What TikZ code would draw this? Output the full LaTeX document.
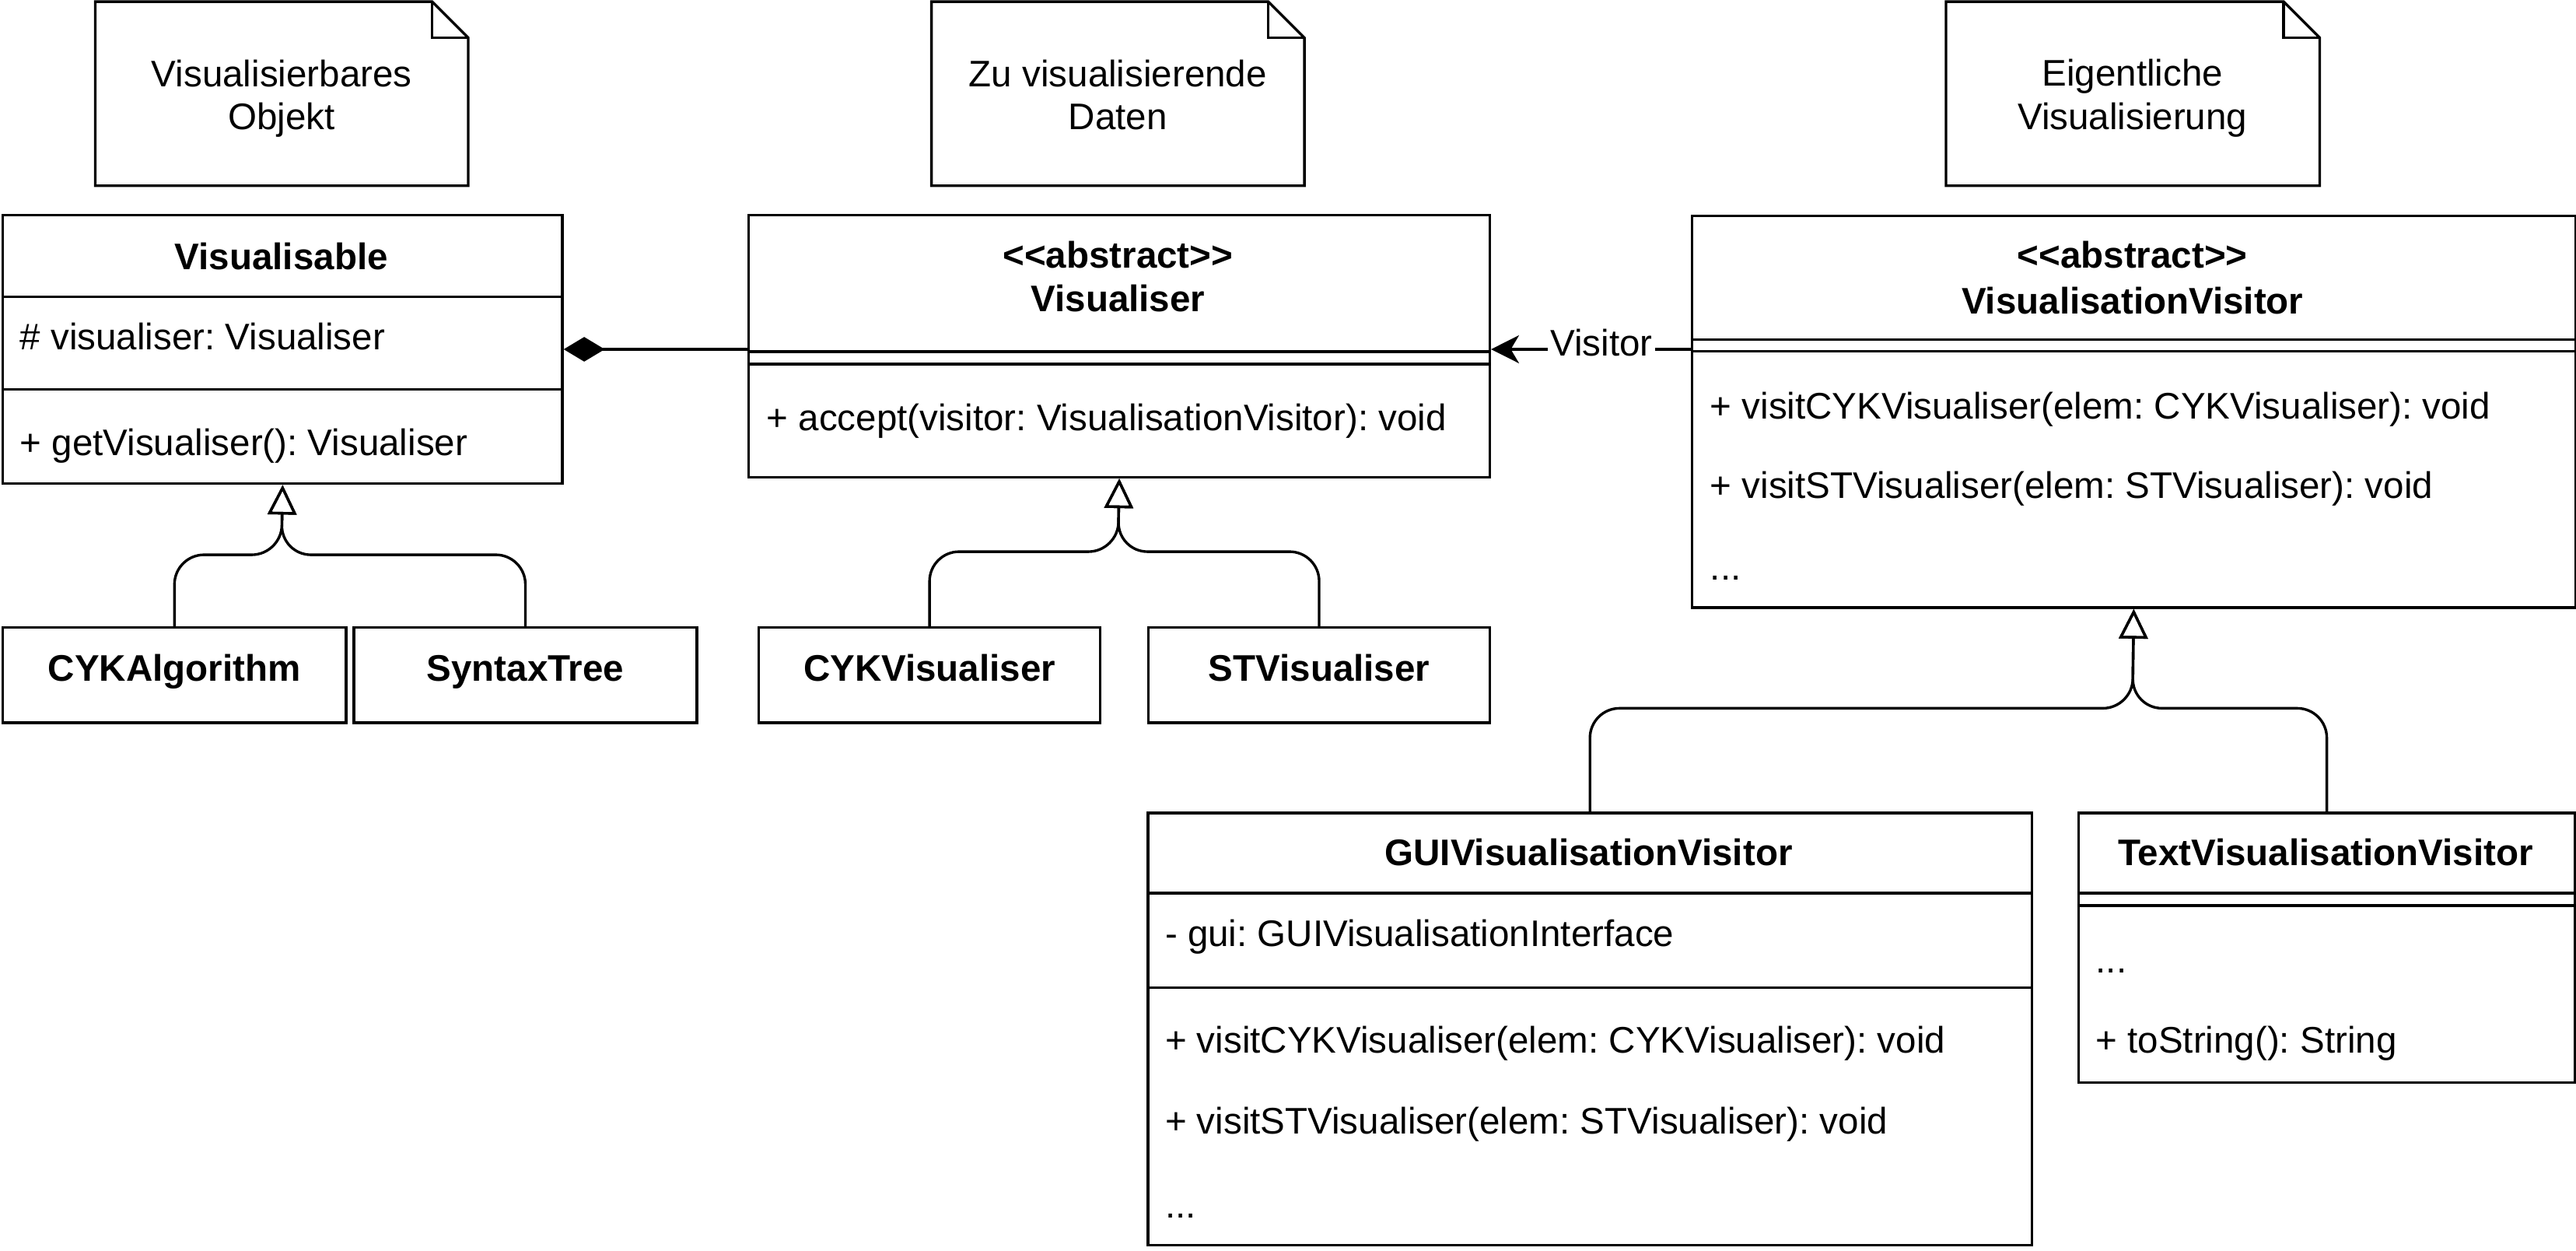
\documentclass[tikz,border=0pt]{standalone}
\usepackage{fontspec}
\setmainfont{Liberation Sans}
\usetikzlibrary{arrows.meta}
\frenchspacing
\begin{document}
\begin{tikzpicture}[x=1pt,y=-1pt,
  every node/.style={font=\fontsize{22.5}{27}\selectfont\frenchspacing, inner sep=0pt},
  cls/.style={draw, line width=1.6pt, anchor=north west, minimum width=#1},
  ln/.style={line width=1.6pt},
  txt/.style={anchor=base west},
  ttl/.style={anchor=base, font=\fontsize{22.5}{27}\selectfont\bfseries\frenchspacing},
  ctr/.style={anchor=base},
  inh/.style={line width=1.6pt, rounded corners=18pt, -{Triangle[open,length=18pt,width=17.5pt]}},
  comp/.style={line width=1.6pt, -{Diamond[length=25pt,width=15pt]}},
  assoc/.style={line width=1.6pt, -{Stealth[length=17pt,width=17pt,inset=5pt]}},
  lbl/.style={fill=white, inner sep=1.5pt}
]
\useasboundingbox (0,0) rectangle (1568,761);

% ---------- notes ----------
\draw[ln, line join=miter] (58,1) -- (263,1) -- (285,23) -- (285,113) -- (58,113) -- cycle;
\draw[ln] (263,1) -- (263,23) -- (285,23);
\node[ctr] (n1a) at (171.5,52.7) {Visualisierbares};
\node[ctr] (n1b) at (171.5,79) {Objekt};

\draw[ln, line join=miter] (567,1) -- (772,1) -- (794,23) -- (794,113) -- (567,113) -- cycle;
\draw[ln] (772,1) -- (772,23) -- (794,23);
\node[ctr] (n2a) at (680.5,52.7) {Zu visualisierende};
\node[ctr] (n2b) at (680.5,79) {Daten};

\draw[ln, line join=miter] (1184.5,1) -- (1390,1) -- (1412,23) -- (1412,113) -- (1184.5,113) -- cycle;
\draw[ln] (1390,1) -- (1390,23) -- (1412,23);
\node[ctr] (n3a) at (1298,52.5) {Eigentliche};
\node[ctr] (n3b) at (1298,78.7) {Visualisierung};

% ---------- Visualisable ----------
\node[cls=340.5pt, minimum height=163.5pt] (vis) at (1,130) {};
\draw[ln] (1,180.5) -- (341.5,180.5);
\draw[ln] (1,237) -- (341.5,237);
\node[ttl] (visT) at (171.25,164) {Visualisable};
\node[txt] (visA) at (12,213) {\# visualiser: Visualiser};
\node[txt] (visM) at (12,277) {+ getVisualiser(): Visualiser};

% ---------- Visualiser ----------
\node[cls=451pt, minimum height=159.6pt] (vzr) at (455,130) {};
\draw[ln] (455,214) -- (906,214);
\draw[ln] (455,221.6) -- (906,221.6);
\node[ttl] (vzrS) at (680.5,163) {<{}<abstract>{}>};
\node[ttl] (vzrT) at (680.5,189.6) {Visualiser};
\node[txt] (vzrM) at (466.5,262) {+ accept(visitor: VisualisationVisitor): void};

% ---------- VisualisationVisitor ----------
\node[cls=538pt, minimum height=238.3pt] (vv) at (1029,130.7) {};
\draw[ln] (1029,206.5) -- (1567,206.5);
\draw[ln] (1029,213.8) -- (1567,213.8);
\node[ttl] (vvS) at (1298,163) {<{}<abstract>{}>};
\node[ttl] (vvT) at (1298,190.8) {VisualisationVisitor};
\node[txt] (vvM1) at (1040.8,254.8) {+ visitCYKVisualiser(elem: CYKVisualiser): void};
\node[txt] (vvM2) at (1040.8,303) {+ visitSTVisualiser(elem: STVisualiser): void};
\node[txt] (vvM3) at (1040.8,352.7) {...};

% ---------- small classes ----------
\node[cls=208.8pt, minimum height=58pt] (cyk) at (1,381) {};
\node[ttl] at (cyk.center |- 0,414.6) {CYKAlgorithm};
\node[cls=208.8pt, minimum height=58pt] (syn) at (214.6,381) {};
\node[ttl] at (syn.center |- 0,414.6) {SyntaxTree};
\node[cls=208pt, minimum height=58pt] (cykv) at (461,381) {};
\node[ttl] at (cykv.center |- 0,414.6) {CYKVisualiser};
\node[cls=207.7pt, minimum height=58pt] (stv) at (698.3,381) {};
\node[ttl] at (stv.center |- 0,414.6) {STVisualiser};

% ---------- GUIVisualisationVisitor ----------
\node[cls=538pt, minimum height=263pt] (gui) at (698,494) {};
\draw[ln] (698,543.5) -- (1236,543.5);
\draw[ln] (698,601) -- (1236,601);
\node[ttl] (guiT) at (967,526.6) {GUIVisualisationVisitor};
\node[txt] (guiA) at (709,575.8) {- gui: GUIVisualisationInterface};
\node[txt] (guiM1) at (709,641) {+ visitCYKVisualiser(elem: CYKVisualiser): void};
\node[txt] (guiM2) at (709,690) {+ visitSTVisualiser(elem: STVisualiser): void};
\node[txt] (guiM3) at (709,741) {...};

% ---------- TextVisualisationVisitor ----------
\node[cls=302pt, minimum height=164pt] (tvv) at (1264.5,494) {};
\draw[ln] (1264.5,543.5) -- (1566.5,543.5);
\draw[ln] (1264.5,551) -- (1566.5,551);
\node[ttl] (tvvT) at (1415.5,526.6) {TextVisualisationVisitor};
\node[txt] (tvvA) at (1275.5,592) {...};
\node[txt] (tvvM) at (1275.5,641) {+ toString(): String};

% ---------- connectors ----------
\coordinate (j1) at (171.25,337.6);
\coordinate (j2) at (680.5,335.7);
\coordinate (j3) at (1298,431);

\draw[inh] (cyk.north) |- (j1) -- (vis.south);
\draw[inh] (syn.north) |- (j1) -- (vis.south);
\draw[inh] (cykv.north) |- (j2) -- (vzr.south);
\draw[inh] (stv.north) |- (j2) -- (vzr.south);
\draw[inh] (gui.north) |- (j3) -- (vv.south);
\draw[inh] (tvv.north) |- (j3) -- (vv.south);

\draw[comp] (vzr.west |- vis.east) -- (vis.east);
\draw[assoc] (vv.west |- vis.east) -- node[lbl, pos=0.447, yshift=4pt] {Visitor} (vzr.east |- vis.east);
\end{tikzpicture}
\end{document}
